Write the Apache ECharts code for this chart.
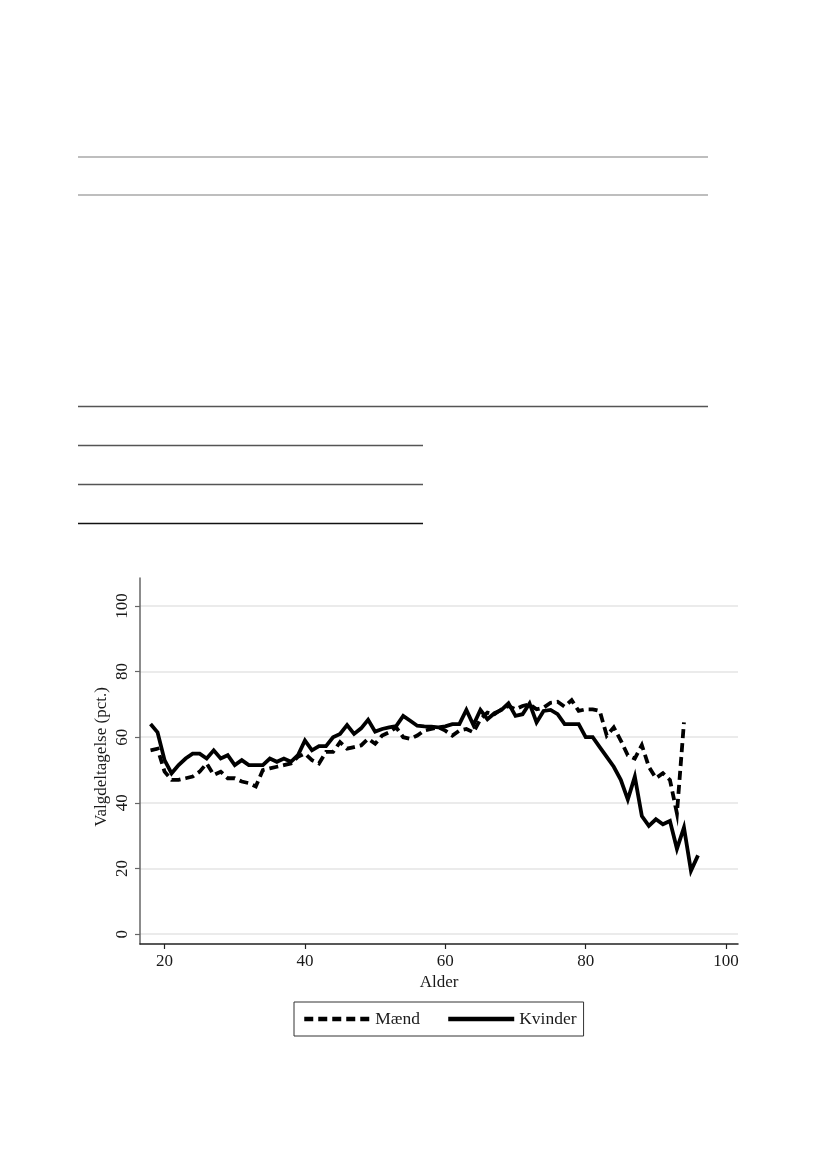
<!DOCTYPE html>
<html>
<head>
<meta charset="utf-8">
<script src="https://cdn.jsdelivr.net/npm/echarts@6/dist/echarts.min.js"></script>
<style>html,body{margin:0;padding:0;background:#fff}#c{width:827px;height:1169px}</style>
</head>
<body>
<div id="c"></div>
<script>
// Data
const ages = [];
for (let a = 18; a <= 96; a++) ages.push(a);
const maend = [56,56.5,49.5,47,47,47.5,48,49.5,52,48.5,49.5,47.5,47.5,46.5,46,45,50,50.5,51,51.5,52,54,
  55,53,52,55.5,55.5,58.5,56.5,57,57.5,59.5,58,60.5,61.5,63,60,59.5,60.5,62,62.5,63,
  62,60.5,62,62.5,61.5,65.5,67.5,67,68.5,69.5,68.5,69.5,70,68.5,69,70.5,70.8,69.3,71.3,68,
  68.5,68.5,68,60.5,63,59,54.5,53.5,57.6,51,47.5,49,47,36.8,64.5];
const kvinder = [64,61.5,53,49,51.5,53.5,55,55,53.5,56,53.5,54.5,51.5,53,51.5,51.5,51.5,53.5,52.5,53.5,52.5,54.5,
  59,56,57.3,57.3,60,61,63.7,61,62.7,65.3,61.7,62.5,63,63.4,66.5,65,63.5,63.3,63.2,63,
  63.3,64,64,68.3,63.7,68.3,65.5,67.3,68.3,70.3,66.5,67,70.3,64.5,68,68.3,67,64,64,64,
  60,60,57,54,51,47,41,48,36,33,35,33.5,34.5,26,32.5,19.3,24];
const yTicks = [0,20,40,60,80,100];
const xTicks = [20,40,60,80,100];
const seriesNames = ['Mænd','Kvinder'];
const yTitle = 'Valgdeltagelse (pct.)';
const xTitle = 'Alder';

const FONT = 'Liberation Serif';
const chart = echarts.init(document.getElementById('c'), null, {renderer:'canvas'});

function pairs(vals){ return vals.map((v,i)=>[ages[i], v]); }

function rule(x1,x2,y,color,w){
  return {type:'line', shape:{x1:x1,y1:y,x2:x2,y2:y}, style:{stroke:color,lineWidth:w}, silent:true};
}

chart.setOption({
  backgroundColor:'#fff',
  animation:false,
  textStyle:{fontFamily:FONT, color:'#1a1a1a'},
  graphic:[
    rule(78,708,157,'#a8a8a8',1.5),
    rule(78,708,195,'#a8a8a8',1.5),
    rule(78,708,406.5,'#555',1.5),
    rule(78,423,445.5,'#555',1.5),
    rule(78,423,484.5,'#555',1.5),
    rule(78,423,523.5,'#111',1.5),
    {type:'text', x:102, y:757, rotation:Math.PI/2, silent:true,
     style:{text:yTitle, font:'17px "Liberation Serif"', fill:'#1a1a1a', align:'center', verticalAlign:'middle'}}
  ],
  grid:{left:140, top:578, width:598, height:366, containLabel:false},
  legend:{
    data:seriesNames,
    left:294, top:1002,
    orient:'horizontal',
    itemWidth:66, itemHeight:12, itemGap:26,
    padding:[8,7,8,8],
    borderColor:'#333', borderWidth:1,
    itemStyle:{color:'rgba(0,0,0,0)', borderWidth:0, opacity:0},
    lineStyle:{width:4.5, color:'#000'},
    textStyle:{fontFamily:FONT, fontSize:17.5, color:'#1a1a1a'}
  },
  xAxis:{
    type:'value', min:16.5, max:101.7,
    name:xTitle, nameLocation:'middle', nameGap:30,
    nameTextStyle:{fontFamily:FONT, fontSize:17, color:'#1a1a1a'},
    axisLine:{show:true, onZero:false, lineStyle:{color:'#222', width:1.5}},
    axisTick:{show:true, length:5, lineStyle:{color:'#222', width:1.2}, customValues:xTicks},
    axisLabel:{fontFamily:FONT, fontSize:17, color:'#1a1a1a', margin:9, customValues:xTicks},
    splitLine:{show:false}
  },
  yAxis:{
    type:'value', min:-3, max:108.5,
    axisLine:{show:true, onZero:false, lineStyle:{color:'#666', width:1.5}},
    axisTick:{show:true, length:5, lineStyle:{color:'#666', width:1.2}, customValues:yTicks},
    axisLabel:{fontFamily:FONT, fontSize:17, color:'#1a1a1a', rotate:90, margin:9, customValues:yTicks},
    splitLine:{show:true, lineStyle:{color:'#e4e4e4', width:1.5}}
  },
  series:[
    {
      name:seriesNames[0], type:'line', data:pairs(maend), symbol:'none',
      lineStyle:{color:'#000', width:3.8, type:[9,5], cap:'butt', join:'miter'},
      itemStyle:{color:'#000'}, z:3
    },
    {
      name:seriesNames[1], type:'line', data:pairs(kvinder), symbol:'none',
      lineStyle:{color:'#000', width:3.8, type:'solid', join:'miter'},
      itemStyle:{color:'#000'}, z:4
    }
  ]
});
</script>
</body>
</html>
